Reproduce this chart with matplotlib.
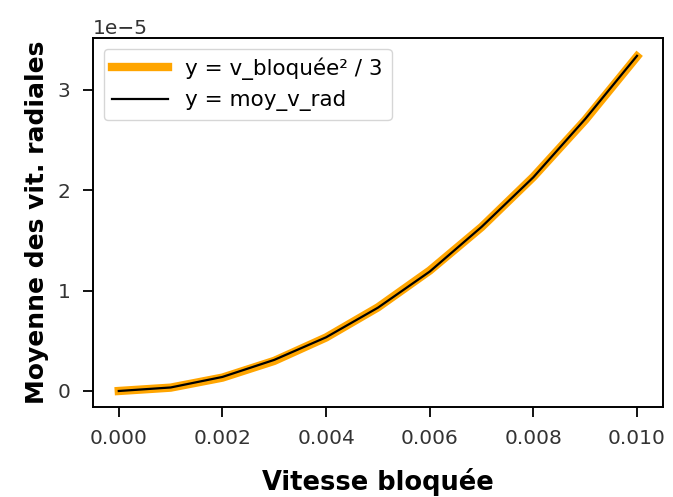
import numpy as np
import matplotlib
matplotlib.use('Agg')
import matplotlib.pyplot as plt

# blocked speed values and the two curves
v_bloquee = [0.000, 0.001, 0.002, 0.003, 0.004, 0.005,
             0.006, 0.007, 0.008, 0.009, 0.010]
theorique = [0.0, 0.0333e-5, 0.1333e-5, 0.3e-5, 0.5333e-5, 0.8333e-5,
             1.2e-5, 1.6333e-5, 2.1333e-5, 2.7e-5, 3.3333e-5]
moy_v_rad = [0.0, 0.035e-5, 0.14e-5, 0.31e-5, 0.535e-5, 0.83e-5,
             1.19e-5, 1.635e-5, 2.13e-5, 2.71e-5, 3.34e-5]

fig, ax = plt.subplots(figsize=(6.73, 4.97), dpi=100)
fig.subplots_adjust(left=0.138, right=0.985, top=0.924, bottom=0.181)

ax.plot(v_bloquee, theorique, color='orange', lw=6, label='y = v_bloquée² / 3')
ax.plot(v_bloquee, moy_v_rad, color='black', lw=1.6, label='y = moy_v_rad')

ax.set_xticks([0.000, 0.002, 0.004, 0.006, 0.008, 0.010])
ax.set_xticklabels(['0.000', '0.002', '0.004', '0.006', '0.008', '0.010'])
ax.set_yticks([0, 1e-5, 2e-5, 3e-5])
ax.set_ylim(-0.16e-5, 3.52e-5)
ax.tick_params(labelsize=14.5, length=7, width=1.3, pad=9, labelcolor='#333333')
ax.yaxis.get_offset_text().set_fontsize(14.5)
for s in ax.spines.values():
    s.set_linewidth(1.4)

ax.set_xlabel('Vitesse bloquée', fontsize=18.5, fontweight='bold', labelpad=14)
ax.set_ylabel('Moyenne des vit. radiales', fontsize=18, fontweight='bold', labelpad=6)
ax.legend(fontsize=15.5, loc='upper left', handlelength=2.6)

fig.savefig('out.png')
